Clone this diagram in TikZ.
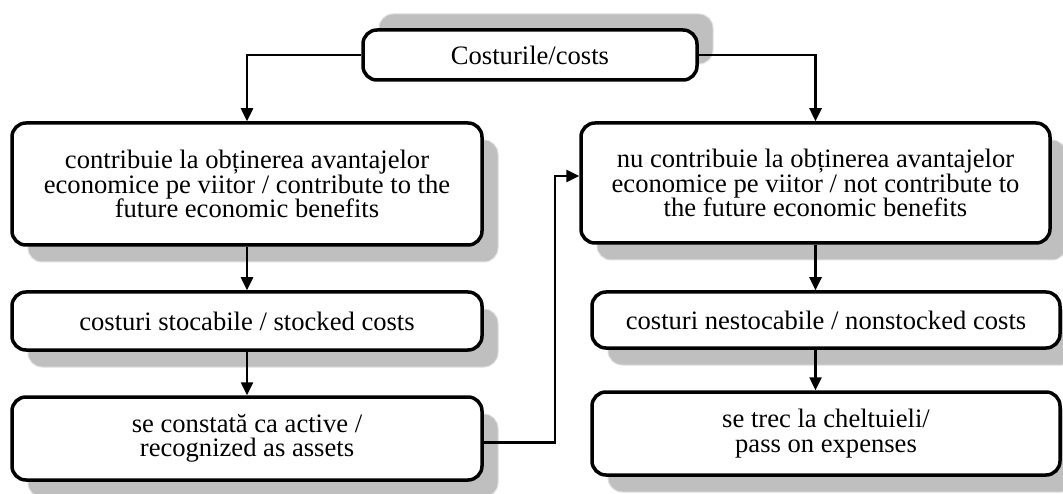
\documentclass[tikz,border=0pt]{standalone}
\usepackage{fontspec}
\setmainfont{Liberation Serif}
\usetikzlibrary{arrows.meta,shadows}

\newcommand{\boxfont}{\fontsize{26.6}{24.5}\selectfont\lineskiplimit=-20pt\relax}

\begin{document}
\begin{tikzpicture}[x=1pt,y=-1pt,
    box/.style={draw, rounded corners=14pt, line width=3.5pt, fill=white,
      align=center, inner sep=0pt, font=\boxfont},
    downshade/.style={general shadow={fill=black!25, draw=black!12, line width=1pt,
      shadow xshift=16pt, shadow yshift=-17pt}},
    upshade/.style={general shadow={fill=black!25, draw=black!12, line width=1pt,
      shadow xshift=16pt, shadow yshift=16pt}},
    link/.style={line width=2.5pt, -{Triangle[length=13pt,width=12pt]}}]
    \useasboundingbox (0,0) rectangle (1063,494);

    \node[box, upshade, minimum width=334pt, minimum height=50pt] (costs) at (530,55) {Costurile/costs};

    \node[box, downshade, minimum width=470pt, minimum height=122pt] (contrib) at (247,184)
        {contribuie la obținerea avantajelor\\economice pe viitor / contribute to the\\future economic benefits};
    \node[box, downshade, minimum width=470pt, minimum height=58pt] (stocked) at (247,321)
        {costuri stocabile / stocked costs};
    \node[box, downshade, minimum width=470pt, minimum height=83pt] (assets) at (247,438.5)
        {se constată ca active /\\recognized as assets};

    \node[box, downshade, minimum width=469pt, minimum height=120pt] (nocontrib) at (815.5,183)
        {nu contribuie la obținerea avantajelor\\economice pe viitor / not contribute to\\the future economic benefits};
    \node[box, downshade, minimum width=468pt, minimum height=56pt] (nonstocked) at (826,320)
        {costuri nestocabile / nonstocked costs};
    \node[box, downshade, minimum width=468pt, minimum height=83pt] (expenses) at (826,433.5)
        {se trec la cheltuieli/\\pass on expenses};

    \draw[link] (costs.west) -| (contrib.north);
    \draw[link] (costs.east) -| (nocontrib.north);
    \draw[link] (contrib.south) -- (stocked.north);
    \draw[link] (stocked.south) -- (assets.north);
    \draw[link] (nocontrib.south) -- (nocontrib.south |- nonstocked.north);
    \draw[link] (nocontrib.south |- nonstocked.south) -- (nocontrib.south |- expenses.north);
    \draw[link] ([yshift=-4pt]assets.east) -- ++(71,0) |- ([yshift=7pt]nocontrib.west);
\end{tikzpicture}
\end{document}
